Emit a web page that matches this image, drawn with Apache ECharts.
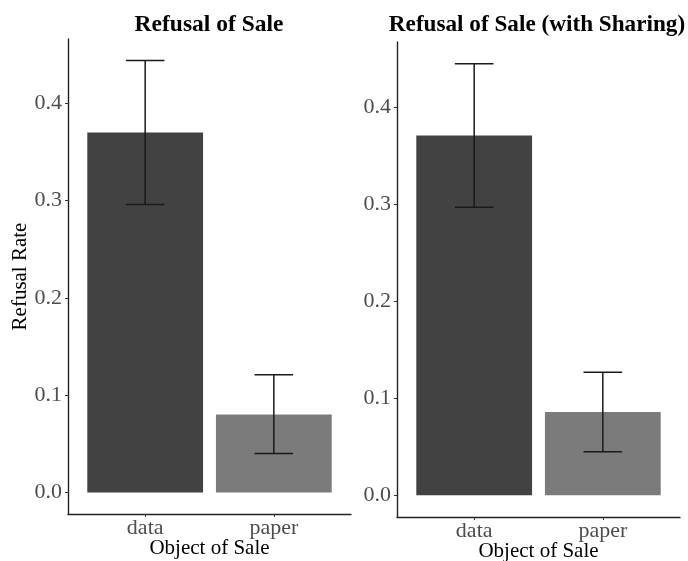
<!DOCTYPE html>
<html>
<head>
<meta charset="utf-8">
<script src="https://cdn.jsdelivr.net/npm/echarts@6/dist/echarts.min.js"></script>
<style>
	html, body { margin: 0; padding: 0; background: #fff; }
	#main { width: 688px; height: 561px; }
</style>
</head>
<body>
<div id="main"></div>
<script>
// chart data
const categories = ['data', 'paper']
const panelTitles = ['Refusal of Sale', 'Refusal of Sale (with Sharing)']
const yTicks = [0, 0.1, 0.2, 0.3, 0.4]

const leftRate = [0.37, 0.08]
const leftLow = [0.296, 0.04]
const leftHigh = [0.444, 0.121]

const rightRate = [0.371, 0.086]
const rightLow = [0.297, 0.045]
const rightHigh = [0.445, 0.127]

const barColors = ['#424242', '#7b7b7b']
const serif = '"Liberation Serif", "DejaVu Serif", serif'

let myChart = echarts.init(document.getElementById('main'))

function barItem(params, api) {
	let x = api.value(0)
	let base = api.coord([x, 0])
	let top = api.coord([x, api.value(1)])
	let w = api.size([0.9, 0])[0]
	return {
		type: 'rect',
		shape: { x: base[0] - w / 2, y: top[1], width: w, height: base[1] - top[1] },
		style: { fill: barColors[params.dataIndex] }
	}
}

function errItem(params, api) {
	let x = api.value(0)
	let lo = api.coord([x, api.value(1)])
	let hi = api.coord([x, api.value(2)])
	let half = api.size([0.3, 0])[0] / 2
	let st = { stroke: '#1a1a1a', lineWidth: 1.5 }
	return {
		type: 'group',
		children: [
			{ type: 'line', shape: { x1: lo[0], y1: lo[1], x2: hi[0], y2: hi[1] }, style: st },
			{ type: 'line', shape: { x1: lo[0] - half, y1: lo[1], x2: lo[0] + half, y2: lo[1] }, style: st },
			{ type: 'line', shape: { x1: hi[0] - half, y1: hi[1], x2: hi[0] + half, y2: hi[1] }, style: st }
		]
	}
}

function xAxisFor(idx) {
	return {
		type: 'value',
		gridIndex: idx,
		min: 0.4,
		max: 2.6,
		name: 'Object of Sale',
		nameLocation: 'middle',
		nameGap: 24,
		nameMoveOverlap: false,
		nameTextStyle: { fontFamily: serif, fontSize: 21, color: '#000' },
		axisLine: { show: true, onZero: false, lineStyle: { color: '#222', width: 1.4 } },
		axisTick: { show: true, length: 3, customValues: [1, 2], lineStyle: { color: '#333' } },
		axisLabel: {
			customValues: [1, 2],
			margin: 3,
			fontFamily: serif,
			fontSize: 22,
			color: '#4d4d4d',
			formatter: v => categories[Math.round(v) - 1]
		},
		splitLine: { show: false }
	}
}

function yAxisFor(idx, min, max, name) {
	return {
		type: 'value',
		gridIndex: idx,
		min: min,
		max: max,
		name: name,
		nameLocation: 'middle',
		nameGap: 37,
		nameMoveOverlap: false,
		nameTextStyle: { fontFamily: serif, fontSize: 21, color: '#000' },
		axisLine: { show: true, onZero: false, lineStyle: { color: '#222', width: 1.4 } },
		axisTick: { show: true, length: 3, customValues: yTicks, lineStyle: { color: '#333' } },
		axisLabel: {
			customValues: yTicks,
			margin: 6,
			fontFamily: serif,
			fontSize: 22,
			color: '#4d4d4d',
			formatter: v => v.toFixed(1)
		},
		splitLine: { show: false }
	}
}

let option = {
	animation: false,
	backgroundColor: '#fff',
	title: [{
		text: panelTitles[0],
		left: 204,
		top: 8,
		textAlign: 'center',
		textStyle: { fontFamily: serif, fontSize: 23.5, fontWeight: 'bold', color: '#000' }
	}, {
		text: panelTitles[1],
		left: 532,
		top: 9,
		textAlign: 'center',
		textStyle: { fontFamily: serif, fontSize: 23.2, fontWeight: 'bold', color: '#000' }
	}],
	grid: [
		{ left: 68, right: 337, top: 39, bottom: 47, outerBoundsMode: 'none', containLabel: false },
		{ left: 397, right: 8, top: 42, bottom: 44, outerBoundsMode: 'none', containLabel: false }
	],
	xAxis: [xAxisFor(0), xAxisFor(1)],
	yAxis: [
		yAxisFor(0, -0.0222, 0.4662, 'Refusal Rate'),
		yAxisFor(1, -0.0223, 0.4673, '')
	],
	series: [{
		type: 'custom',
		xAxisIndex: 0,
		yAxisIndex: 0,
		renderItem: barItem,
		data: categories.map((c, i) => [i + 1, leftRate[i]])
	}, {
		type: 'custom',
		xAxisIndex: 0,
		yAxisIndex: 0,
		renderItem: errItem,
		data: categories.map((c, i) => [i + 1, leftLow[i], leftHigh[i]])
	}, {
		type: 'custom',
		xAxisIndex: 1,
		yAxisIndex: 1,
		renderItem: barItem,
		data: categories.map((c, i) => [i + 1, rightRate[i]])
	}, {
		type: 'custom',
		xAxisIndex: 1,
		yAxisIndex: 1,
		renderItem: errItem,
		data: categories.map((c, i) => [i + 1, rightLow[i], rightHigh[i]])
	}]
}
myChart.setOption(option)
</script>
</body>
</html>
